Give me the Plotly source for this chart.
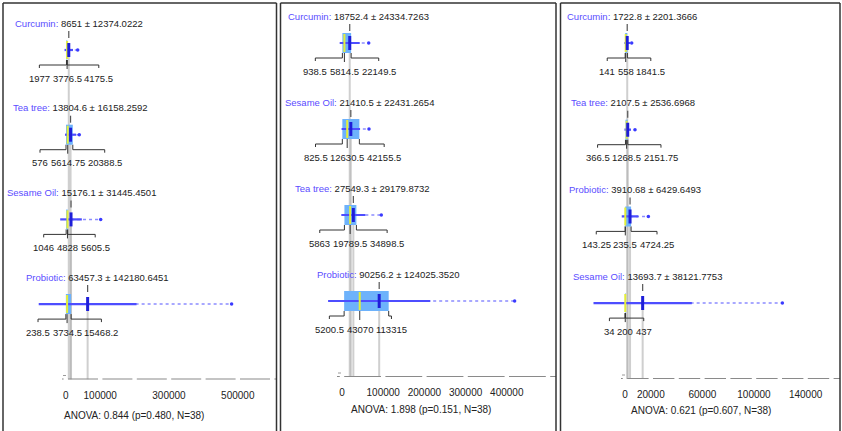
import plotly.graph_objects as go

# ---------------- data ----------------
groups = [
    ["Curcumin", "Tea tree", "Sesame Oil", "Probiotic"],
    ["Curcumin", "Sesame Oil", "Tea tree", "Probiotic"],
    ["Curcumin", "Tea tree", "Probiotic", "Sesame Oil"],
]
means = [
    [8651, 13804.6, 15176.1, 63457.3],
    [18752.4, 21410.5, 27549.3, 90256.2],
    [1722.8, 2107.5, 3910.68, 13693.7],
]
sds = [
    [12374.0222, 16158.2592, 31445.4501, 142180.6451],
    [24334.7263, 22431.2654, 29179.8732, 124025.3520],
    [2201.3666, 2536.6968, 6429.6493, 38121.7753],
]
q1s = [
    [1977, 576, 1046, 238.5],
    [938.5, 825.5, 5863, 5200.5],
    [141, 366.5, 143.25, 34],
]
medians = [
    [3776.5, 5614.75, 4828, 3734.5],
    [5814.5, 12630.5, 19789.5, 43070],
    [558, 1268.5, 235.5, 200],
]
q3s = [
    [4175.5, 20388.5, 5605.5, 15468.2],
    [22149.5, 42155.5, 34898.5, 113315],
    [1841.5, 2151.75, 4724.25, 437],
]
maxima = [
    [34600, 39200, 101400, 482000],
    [64800, 65500, 95400, 419000],
    [5200, 7750, 18100, 122000],
]
anova_text = [
    "ANOVA: 0.844 (p=0.480, N=38)",
    "ANOVA: 1.898 (p=0.151, N=38)",
    "ANOVA: 0.621 (p=0.607, N=38)",
]
tick_vals = [
    [0, 100000, 300000, 500000],
    [0, 100000, 200000, 300000, 400000],
    [0, 20000, 60000, 100000, 140000],
]
tick_step = [100000, 100000, 20000]

# ---------------- layout constants (pixels) ----------------
W, H = 842, 431
FONT = "Liberation Sans"
PANEL_L = [3, 280.5, 560.5]
PANEL_R = [276.5, 556, 840]
ZERO_PX = [65.8, 342.0, 625.0]
PX_PER_UNIT = [34.4 / 1e5, 41.2 / 1e5, 12.9 / 1e4]
AXIS_Y = [379.5, 377, 379]
AXIS_START = [62, 337, 621]
ROW0 = [50, 43, 43]
ROW_STEP = [84.7, 86, 86.7]
LABEL_SHIFT = [10, 9, 5]
ANOVA_X = [134, 421, 701]
ANOVA_Y = [415, 409, 410]

NAME_COLOR = "#5a4cff"
BOX_COLOR = "#6db2fb"
SD_COLOR = "#4d4dff"
DOT_COLOR = "#8c8cff"
MEAN_COLOR = "#1e1ed8"
MEDIAN_COLOR = "#e4ee3a"
GUIDE_COLOR = "rgba(175,175,175,0.6)"
BRACKET_COLOR = "#333333"

CHAR_EM = {".": 0.278, " ": 0.278, ",": 0.278}


def text_width(s, size):
    return sum(CHAR_EM.get(c, 0.556) for c in s) * size


def fmt(v):
    return "{:g}".format(v)


fig = go.Figure()
guides, lower, upper = [], [], []
annotations = []
LBL = 9.5

for p in range(3):
    xa = "x" if p == 0 else f"x{p + 1}"
    ya = "y" if p == 0 else f"y{p + 1}"
    z, sc = ZERO_PX[p], PX_PER_UNIT[p]

    def to_px(v):
        return z + v * sc

    def to_val(px):
        return (px - z) / sc

    bx, by = [], []
    mx, my = [], []
    for i, name in enumerate(groups[p]):
        yc = ROW0[p] + i * ROW_STEP[p]
        m, s = means[p][i], sds[p][i]
        q1, med, q3, mxv = q1s[p][i], medians[p][i], q3s[p][i], maxima[p][i]

        # guide from each mean down to the axis
        guides.append(dict(type="line", xref=xa, yref=ya, x0=m, x1=m, y0=yc,
                           y1=AXIS_Y[p], line=dict(color=GUIDE_COLOR, width=2),
                           layer="below"))
        # dotted range towards the maximum
        lower.append(dict(type="line", xref=xa, yref=ya, x0=m, x1=mxv, y0=yc, y1=yc,
                          line=dict(color=DOT_COLOR, width=1.5, dash="dot"),
                          layer="below"))
        mx.append(mxv)
        my.append(yc)
        # interquartile box
        upper.append(dict(type="rect", xref=xa, yref=ya, x0=q1, x1=q3,
                          y0=yc - 10, y1=yc + 10, fillcolor=BOX_COLOR,
                          line=dict(width=0), layer="above"))
        # mean +/- SD
        upper.append(dict(type="line", xref=xa, yref=ya, x0=m - s, x1=m + s,
                          y0=yc, y1=yc, line=dict(color=SD_COLOR, width=2.2),
                          layer="above"))
        # median
        upper.append(dict(type="line", xref=xa, yref=ya, x0=med, x1=med,
                          y0=yc - 9, y1=yc + 9,
                          line=dict(color=MEDIAN_COLOR, width=2), layer="above"))
        # mean
        upper.append(dict(type="line", xref=xa, yref=ya, x0=m, x1=m,
                          y0=yc - 7, y1=yc + 7,
                          line=dict(color=MEAN_COLOR, width=3), layer="above"))
        # small tick above the mean
        upper.append(dict(type="line", xref=xa, yref=ya, x0=m, x1=m,
                          y0=yc - 19, y1=yc - 12,
                          line=dict(color="#555555", width=1.2), layer="above"))

        # group title
        annotations.append(dict(
            xref=xa, yref=ya, x=m, y=yc - 27, xshift=LABEL_SHIFT[p],
            text=f"<span style='color:{NAME_COLOR}'>{name}:</span> {fmt(m)} \u00b1 {s:.4f}",
            showarrow=False, xanchor="center", yanchor="middle",
            font=dict(family=FONT, size=LBL, color="#222222")))

        # quartile labels, laid out side by side around the median
        t1, tm, t3 = fmt(q1), fmt(med), fmt(q3)
        w1, wm, w3 = text_width(t1, LBL), text_width(tm, LBL), text_width(t3, LBL)
        gap = 0.278 * LBL
        pm = to_px(med)
        c1 = min(to_px(q1), pm - wm / 2 - gap - w1 / 2)
        c3 = max(to_px(q3), pm + wm / 2 + gap + w3 / 2)
        ly = yc + 28
        for c, t in ((c1, t1), (pm, tm), (c3, t3)):
            annotations.append(dict(
                xref=xa, yref=ya, x=to_val(c), y=ly, text=t, showarrow=False,
                xanchor="center", yanchor="middle",
                font=dict(family=FONT, size=LBL, color="#222222")))

        yb, yh = yc + 10, yc + 15
        bx += [q1, q1, to_val(c1), to_val(c1), None]
        by += [yb, yh, yh, yh + 3, None]
        bx += [med, med, None]
        by += [yb, yh + 4, None]
        bx += [q3, q3, to_val(c3), to_val(c3), None]
        by += [yb, yh, yh, yh + 3, None]

    fig.add_trace(go.Scatter(x=bx, y=by, mode="lines", xaxis=xa, yaxis=ya,
                             line=dict(color=BRACKET_COLOR, width=1),
                             hoverinfo="skip"))
    fig.add_trace(go.Scatter(x=mx, y=my, mode="markers", xaxis=xa, yaxis=ya,
                             marker=dict(color="#3a3aff", size=3.5),
                             hoverinfo="skip"))

    # segmented axis line, broken at each tick step
    x_lo, x_hi = to_val(AXIS_START[p]), to_val(PANEL_R[p])
    gv = 2.2 / sc
    ax, ay = [x_lo, -gv, None], [AXIS_Y[p]] * 2 + [None]
    k = 0
    while k * tick_step[p] < x_hi:
        a = k * tick_step[p] + gv
        b = min((k + 1) * tick_step[p] - gv, x_hi)
        ax += [a, b, None]
        ay += [AXIS_Y[p], AXIS_Y[p], None]
        k += 1
    fig.add_trace(go.Scatter(x=ax, y=ay, mode="lines", xaxis=xa, yaxis=ya,
                             line=dict(color="#8a8a8a", width=2),
                             hoverinfo="skip", cliponaxis=False))
    fig.add_trace(go.Scatter(x=[to_val(AXIS_START[p] + 1), to_val(AXIS_START[p] + 4)],
                             y=[AXIS_Y[p] - 4] * 2, mode="lines", xaxis=xa, yaxis=ya,
                             line=dict(color="#9a9a9a", width=1), hoverinfo="skip"))

    fig.update_layout(**{
        ("xaxis" if p == 0 else f"xaxis{p + 1}"): dict(
            domain=[PANEL_L[p] / W, PANEL_R[p] / W],
            range=[to_val(PANEL_L[p]), to_val(PANEL_R[p])],
            anchor=ya, showgrid=False, zeroline=False, showline=False,
            tickmode="array", tickvals=tick_vals[p],
            ticktext=[str(v) for v in tick_vals[p]],
            ticks="outside", ticklen=6, tickcolor="rgba(0,0,0,0)",
            tickfont=dict(family=FONT, size=10, color="#222222"), fixedrange=True),
        ("yaxis" if p == 0 else f"yaxis{p + 1}"): dict(
            domain=[1 - AXIS_Y[p] / H, 1], range=[AXIS_Y[p], 0], anchor=xa,
            visible=False, fixedrange=True),
    })

    annotations.append(dict(
        xref="paper", yref="paper", x=ANOVA_X[p] / W, y=1 - ANOVA_Y[p] / H,
        text=anova_text[p], showarrow=False, xanchor="center", yanchor="middle",
        font=dict(family=FONT, size=10, color="#222222")))

# panel frames
frames = []
for p in range(3):
    for (xa0, ya0, xa1, ya1) in ((PANEL_L[p], 3, PANEL_L[p], H),
                                 (PANEL_R[p], 3, PANEL_R[p], H),
                                 (PANEL_L[p], 3, PANEL_R[p], 3)):
        frames.append(dict(type="line", xref="paper", yref="paper",
                           x0=xa0 / W, x1=xa1 / W, y0=1 - ya0 / H, y1=1 - ya1 / H,
                           line=dict(color="#333333", width=1.5), layer="above"))

fig.update_layout(
    width=W, height=H, margin=dict(l=0, r=0, t=0, b=0),
    paper_bgcolor="white", plot_bgcolor="white", showlegend=False,
    shapes=guides + lower + upper + frames, annotations=annotations,
    font=dict(family=FONT, size=10),
)

fig.write_html("out.html")
